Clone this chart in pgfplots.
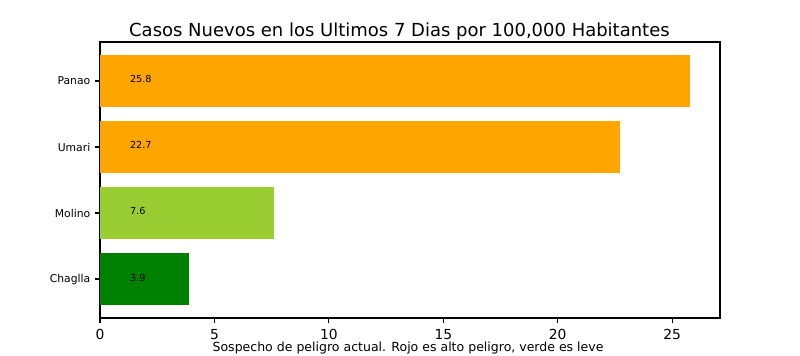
\documentclass[border=0pt]{standalone}
\usepackage{fontspec}
\setmainfont{DejaVu Sans}
\usepackage{pgfplots}
\pgfplotsset{compat=1.18}
\definecolor{mplorange}{RGB}{255,165,0}
\definecolor{mplyg}{RGB}{154,205,50}
\definecolor{mplgreen}{RGB}{0,128,0}
\begin{document}
\begin{tikzpicture}
\begin{axis}[
  at={(72bp,27.36bp)}, anchor=south west,
  scale only axis, width=446.4bp, height=198.72bp,
  xmin=0, xmax=27.09, ymin=-0.59, ymax=3.59,
  xbar, bar width=0.8, bar shift=0pt,
  xtick={0,5,10,15,20,25},
  ytick={0,1,2,3},
  yticklabels={Chaglla,Molino,Umari,Panao},
  tick align=outside, tick pos=left,
  major tick length=3.5bp,
  every tick/.style={black, line width=0.8bp},
  axis line style={line width=0.8bp},
  /pgf/number format/assume math mode=true,
  xticklabel style={font=\fontsize{10}{12}\selectfont, yshift=-1bp},
  yticklabel style={font=\fontsize{7.8}{9}\selectfont},
  clip=false,
]
\addplot[draw=none, fill=mplgreen] coordinates {(3.9,0)};
\addplot[draw=none, fill=mplyg] coordinates {(7.6,1)};
\addplot[draw=none, fill=mplorange] coordinates {(22.7,2)};
\addplot[draw=none, fill=mplorange] coordinates {(25.8,3)};
\addplot[xbar=false, draw=none, mark=none, nodes near coords, point meta=explicit symbolic,
  every node near coord/.style={anchor=base west, inner sep=0pt, font=\fontsize{7}{8}\selectfont, text=black}]
  table[meta=label] {
x y label
1.3 -0.03 3.9
1.3 0.97 7.6
1.3 1.97 22.7
1.3 2.97 25.8
};
\end{axis}
\node[anchor=base, inner sep=0pt, font=\fontsize{9.05}{11}\selectfont] at (293.8bp,3.2bp) {Sospecho de peligro actual. Rojo es alto peligro, verde es leve};
\node[anchor=base, inner sep=0pt, font=\fontsize{13}{15}\selectfont] at (287.6bp,229.7bp) {Casos Nuevos en los Ultimos 7 Dias por 100,000 Habitantes};
\pgfresetboundingbox
\path[use as bounding box] (0,0) rectangle (576bp,256.32bp);
\end{tikzpicture}
\end{document}
